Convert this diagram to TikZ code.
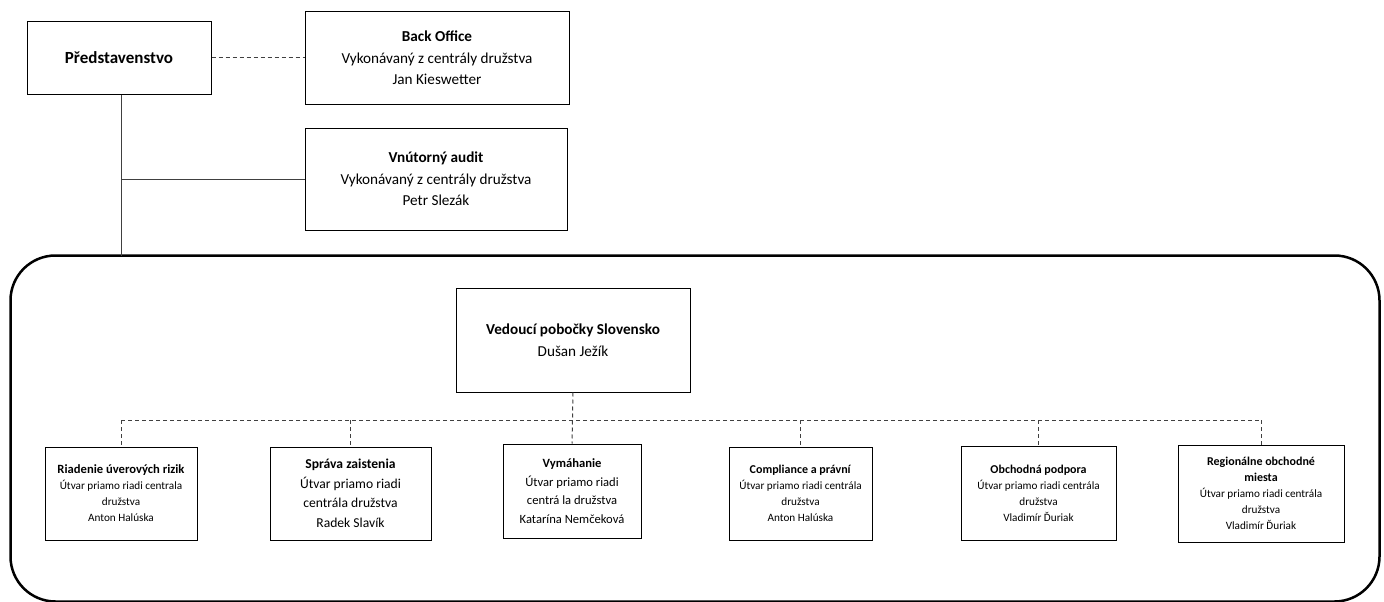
\documentclass[tikz,border=0pt]{standalone}
\usepackage{fontspec}
\setmainfont{Carlito}
\begin{document}
\begin{tikzpicture}[x=1pt,y=-1pt,
  box/.style={draw=black,line width=1pt,rectangle,inner sep=0pt,align=center},
  link/.style={draw=black!75,line width=1pt},
  dlink/.style={draw=black!75,line width=1pt,dash pattern=on 4pt off 3pt},
  big/.style={font=\fontsize{15.2}{21.5}\selectfont},
  small/.style={font=\fontsize{11.2}{16}\selectfont},
  mid/.style={font=\fontsize{13.6}{19.5}\selectfont},
  midb/.style={font=\fontsize{12.6}{18.5}\selectfont},
  ttl/.style={}]
\useasboundingbox (0,0) rectangle (1384,602);
% frame
\node[draw=black,line width=2.5pt,rounded corners=45pt,minimum width=1369pt,minimum height=346pt,inner sep=0pt] (frame) at (695,428.5) {};
% top
\node[box,font=\fontsize{17}{21}\selectfont,minimum width=184pt,minimum height=72pt] (pred) at (119,58) {\textbf{Představenstvo}};
\node[box,big,minimum width=264pt,minimum height=92pt] (back) at (437,58) {\textbf{Back Office}\\Vykonávaný z centrály družstva\\Jan Kieswetter};
\node[box,big,minimum width=262pt,minimum height=102pt] (audit) at (436,179) {\textbf{Vnútorný audit}\\Vykonávaný z centrály družstva\\Petr Slezák};
\node[box,big,minimum width=234pt,minimum height=104pt] (ved) at (573,340) {\textbf{Vedoucí pobočky Slovensko}\\Dušan Ježík};
% bottom boxes
\node[box,small,minimum width=152pt,minimum height=93pt] (b1) at (121,493.5) {\textbf{\fontsize{12.6}{16}\selectfont Riadenie úverových rizik}\\Útvar priamo riadi centrala\\družstva\\Anton Halúska};
\node[box,mid,minimum width=161pt,minimum height=93pt] (b2) at (350.5,493.5) {\textbf{Správa  zaistenia}\\Útvar priamo riadi\\centrála družstva\\Radek Slavík};
\node[box,midb,minimum width=138pt,minimum height=94pt] (b3) at (572,491) {\textbf{Vymáhanie}\\Útvar priamo riadi\\centrá la družstva\\Katarína Nemčeková};
\node[box,small,minimum width=143pt,minimum height=93pt] (b4) at (800.5,493.5) {\textbf{\fontsize{12}{16}\selectfont Compliance  a právní}\\Útvar priamo riadi centrála\\družstva\\Anton Halúska};
\node[box,small,minimum width=155pt,minimum height=94pt] (b5) at (1038.5,493) {\textbf{\fontsize{12}{16}\selectfont Obchodná  podpora}\\Útvar priamo riadi centrála\\družstva\\Vladimír Ďuriak};
\node[box,small,minimum width=166pt,minimum height=97pt] (b6) at (1261,493.5) {\textbf{\fontsize{12}{16}\selectfont Regionálne obchodné}\\\textbf{\fontsize{12}{16}\selectfont miesta}\\Útvar priamo riadi centrála\\družstva\\Vladimír Ďuriak};
% connectors
\coordinate (j) at (121,256);
\draw[dlink] (pred.east) -- (back.west);
\draw[link] (pred.south -| j) -- (j);
\draw[link] (audit.west -| j) -- (audit.west);
\coordinate (bus) at (573,420);
\draw[dlink] (ved.south) -- (b3.north);
\draw[dlink] (b1.north |- bus) -- (b6.north |- bus);
\foreach \b in {b1,b2,b4,b5,b6} \draw[dlink] (\b.north |- bus) -- (\b.north);
\end{tikzpicture}
\end{document}
